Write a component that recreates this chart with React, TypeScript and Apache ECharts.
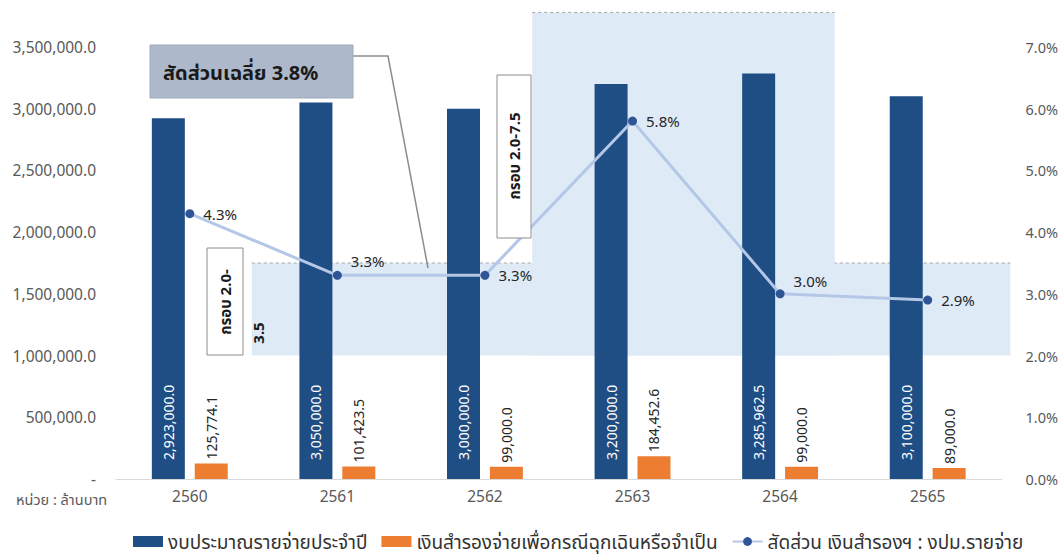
import React, { useEffect, useRef } from "react";
import * as echarts from "echarts";

const years = ["2560", "2561", "2562", "2563", "2564", "2565"];
const budget = [2923000, 3050000, 3000000, 3200000, 3285962.5, 3100000];
const reserve = [125774.1, 101423.5, 99000, 184452.6, 99000, 89000];
const ratio = [4.3, 3.3, 3.3, 5.8, 3.0, 2.9];
const ratioLabelLift = [0, 14, 0, 0, 13, 0];

const seriesNames = [
  "งบประมาณรายจ่ายประจำปี",
  "เงินสำรองจ่ายเพื่อกรณีฉุกเฉินหรือจำเป็น",
  "สัดส่วน เงินสำรองฯ : งปม.รายจ่าย",
];
const averageText = "สัดส่วนเฉลี่ย 3.8%";
const unitText = "หน่วย : ล้านบาท";
const bandLowText = ["กรอบ 2.0-", "3.5"];
const bandHighText = "กรอบ 2.0-7.5";

// target bands on the percent axis (value range) and their category-index extents
const bandLow = { y: [2.0, 3.5], x: [0.42, 5.56] };
const bandHigh = { y: [2.0, 7.56], x: [2.32, 4.37] };

const FONT = "'Noto Sans', 'Noto Sans Thai', 'DejaVu Sans', sans-serif";
const BLUE = "#1f4e85";
const ORANGE = "#ed7d31";

const fmtNum = (v: number) =>
  v.toLocaleString("en-US", { minimumFractionDigits: 1, maximumFractionDigits: 1 });

export default function App() {
  const ref = useRef<HTMLDivElement>(null);
  useEffect(() => {
    document.body.style.margin = "0";
    const chart = echarts.init(ref.current!, null, { renderer: "svg" });
    chart.setOption({
      animation: false,
      textStyle: { fontFamily: FONT },
      grid: { left: 116, right: 55, top: 47, bottom: 75 },
      legend: {
        bottom: -2,
        left: 128,
        itemGap: 14,
        itemWidth: 30,
        itemHeight: 11,
        textStyle: { fontSize: 19, color: "#333", fontFamily: FONT },
        data: [
          { name: seriesNames[0], icon: "rect" },
          { name: seriesNames[1], icon: "rect" },
          { name: seriesNames[2] },
        ],
      },
      xAxis: {
        type: "category",
        data: years,
        axisTick: { show: false },
        axisLine: { lineStyle: { color: "#d9d9d9" } },
        axisLabel: { color: "#595959", fontSize: 15.5, margin: 9 },
      },
      yAxis: [
        {
          type: "value",
          min: 0,
          max: 3500000,
          interval: 500000,
          splitLine: { show: false },
          axisLabel: {
            color: "#595959",
            fontSize: 15.5,
            margin: 20,
            formatter: (v: number) => (v === 0 ? "-" : fmtNum(v)),
          },
        },
        {
          type: "value",
          min: 0,
          max: 7,
          interval: 1,
          splitLine: { show: false },
          axisLabel: {
            color: "#595959",
            fontSize: 14.5,
            margin: 24,
            formatter: (v: number) => v.toFixed(1) + "%",
          },
        },
      ],
      series: [
        {
          name: seriesNames[0],
          type: "bar",
          data: budget,
          barWidth: 33,
          barGap: "30%",
          itemStyle: { color: BLUE },
          label: {
            show: true,
            position: "insideBottom",
            rotate: 90,
            align: "left",
            verticalAlign: "middle",
            distance: 19,
            color: "#fff",
            fontSize: 14,
            formatter: (p: any) => fmtNum(p.value),
          },
        },
        {
          name: seriesNames[1],
          type: "bar",
          data: reserve,
          barWidth: 33,
          itemStyle: { color: ORANGE },
          label: {
            show: true,
            position: "top",
            rotate: 90,
            align: "left",
            verticalAlign: "middle",
            distance: 4,
            color: "#262626",
            fontSize: 14,
            formatter: (p: any) => fmtNum(p.value),
          },
        },
        {
          name: seriesNames[2],
          type: "line",
          yAxisIndex: 1,
          z: 5,
          data: ratio.map((v, i) => ({
            value: v,
            label: { offset: [0, -ratioLabelLift[i]] },
          })),
          symbol: "circle",
          symbolSize: 9,
          lineStyle: { color: "#b4c7e7", width: 3 },
          itemStyle: { color: "#2f5597" },
          label: {
            show: true,
            position: "right",
            distance: 9,
            color: "#262626",
            fontSize: 15,
            formatter: (p: any) => p.value.toFixed(1) + "%",
          },
        },
      ],
    });

    const xAt = (f: number) => {
      const x0 = chart.convertToPixel({ xAxisIndex: 0 }, 0) as number;
      const x1 = chart.convertToPixel({ xAxisIndex: 0 }, 1) as number;
      return x0 + f * (x1 - x0);
    };
    const yAt = (v: number) => chart.convertToPixel({ yAxisIndex: 1 }, v) as number;

    const rectOf = (b: { y: number[]; x: number[] }) => {
      const x = xAt(b.x[0]);
      const w = xAt(b.x[1]) - x;
      const yTop = yAt(b.y[1]);
      const h = yAt(b.y[0]) - yTop;
      return { x, y: yTop, w, h };
    };
    const lo = rectOf(bandLow);
    const hi = rectOf(bandHigh);
    const fill = "#deebf7";
    const boxText = (text: string, x: number, y: number) => ({
      type: "text",
      z: 11,
      x,
      y,
      rotation: Math.PI / 2,
      style: {
        text,
        fontFamily: FONT,
        fontSize: 15,
        fontWeight: "bold",
        fill: "#1a1a1a",
        align: "center",
        verticalAlign: "middle",
      },
    });

    chart.setOption({
      graphic: [
        {
          type: "rect",
          z: 0,
          shape: { x: lo.x, y: lo.y, width: lo.w, height: lo.h },
          style: { fill },
          silent: true,
        },
        {
          type: "line",
          z: 0,
          shape: { x1: lo.x, y1: lo.y, x2: lo.x + lo.w, y2: lo.y },
          style: { stroke: "#a6a6a6", lineWidth: 1, lineDash: [3, 3] },
        },
        {
          type: "rect",
          z: 0,
          shape: { x: hi.x, y: hi.y, width: hi.w, height: hi.h },
          style: { fill },
          silent: true,
        },
        {
          type: "line",
          z: 0,
          shape: { x1: hi.x, y1: hi.y, x2: hi.x + hi.w, y2: hi.y },
          style: { stroke: "#a6a6a6", lineWidth: 1, lineDash: [3, 3] },
        },
        // average callout
        {
          type: "polyline",
          z: 10,
          shape: { points: [[353, 56], [388, 56], [428, 268]] },
          style: { stroke: "#8c8c8c", lineWidth: 1.5, fill: null },
        },
        {
          type: "rect",
          z: 10,
          shape: { x: 150, y: 45, width: 203, height: 53 },
          style: { fill: "#adb9ca", stroke: "#9eaabd", lineWidth: 1 },
        },
        {
          type: "text",
          z: 11,
          x: 163,
          y: 72,
          style: {
            text: averageText,
            fontFamily: FONT,
            fontSize: 20,
            fontWeight: "bold",
            fill: "#1a1a1a",
            verticalAlign: "middle",
          },
        },
        // low band box
        {
          type: "rect",
          z: 10,
          shape: { x: 207, y: 248, width: 36, height: 107 },
          style: { fill: "#fff", stroke: "#8c8c8c", lineWidth: 1 },
        },
        boxText(bandLowText[0], 225, 302),
        boxText(bandLowText[1], 258, 333),
        // high band box
        {
          type: "rect",
          z: 10,
          shape: { x: 497, y: 75, width: 34, height: 163 },
          style: { fill: "#fff", stroke: "#8c8c8c", lineWidth: 1 },
        },
        boxText(bandHighText, 514, 156),
        {
          type: "text",
          z: 11,
          x: 16,
          y: 499,
          style: {
            text: unitText,
            fontFamily: FONT,
            fontSize: 14.5,
            fill: "#595959",
            verticalAlign: "middle",
          },
        },
      ],
    });

    return () => chart.dispose();
  }, []);
  return <div ref={ref} style={{ width: 1061, height: 554 }} />;
}
